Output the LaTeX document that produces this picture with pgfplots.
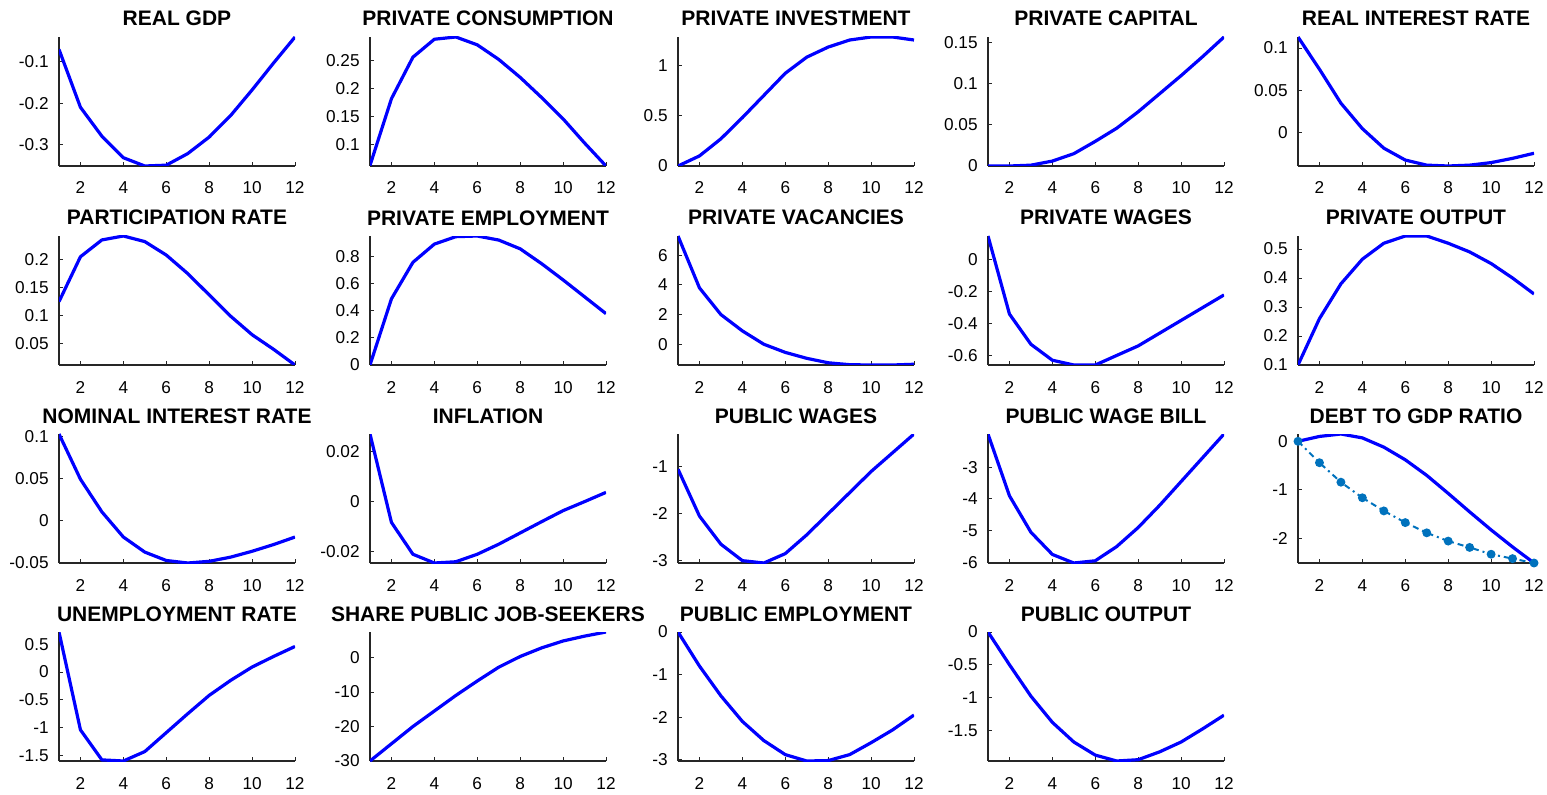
\documentclass[border=0pt]{standalone}
\usepackage{fontspec}
\setmainfont{Liberation Sans}
\usepackage{pgfplots}
\pgfplotsset{compat=1.18}
\definecolor{lb}{rgb}{0,0.447,0.741}
\pgfplotsset{
 panel/.style={
  scale only axis, width=118pt, height=64.5pt,
  xmin=1, xmax=12, enlargelimits=false,
  axis lines*=left,
  axis line style={line width=0.6pt, black!85},
  xtick={2,4,...,12},
  scaled y ticks=false, scaled x ticks=false,
  tick align=inside, major tick length=2pt,
  tick style={line width=0.5pt, black!85},
  ticklabel style={font=\fontsize{8.6}{10}\selectfont},
  /pgf/number format/assume math mode=true,
  /pgf/number format/fixed,
  /pgf/number format/precision=3,
  xticklabel style={anchor=base, yshift=-14pt, inner sep=0pt},
  yticklabel style={anchor=east, inner sep=0pt, xshift=-5pt},
  every axis title shift=0pt,
  title style={font=\fontsize{10.5}{12}\selectfont\bfseries, at={(0.5,1)}, anchor=base, yshift=5.5pt, inner sep=0pt},
 },
 ml/.style={blue, line width=1.6pt, line join=round},
}
\begin{document}
\begin{tikzpicture}
\useasboundingbox (0,0) rectangle (773.5pt,397pt);
% Row 1
\begin{axis}[panel, at={(29.5pt,314pt)}, title={REAL GDP}, ytick={-0.3,-0.2,-0.1}]
\addplot[ml] coordinates {(1,-0.07)(2,-0.21)(3,-0.28)(4,-0.332)(5,-0.352)(6,-0.35)(7,-0.322)(8,-0.282)(9,-0.23)(10,-0.168)(11,-0.103)(12,-0.04)};
\end{axis}
\begin{axis}[panel, at={(185pt,314pt)}, title={PRIVATE CONSUMPTION}, ytick={0.1,0.15,0.2,0.25}]
\addplot[ml] coordinates {(1,0.063)(2,0.182)(3,0.256)(4,0.288)(5,0.292)(6,0.278)(7,0.252)(8,0.22)(9,0.184)(10,0.146)(11,0.103)(12,0.062)};
\end{axis}
\begin{axis}[panel, at={(339pt,314pt)}, title={PRIVATE INVESTMENT}, ytick={0,0.5,1}]
\addplot[ml] coordinates {(1,0)(2,0.1)(3,0.27)(4,0.48)(5,0.7)(6,0.92)(7,1.08)(8,1.18)(9,1.25)(10,1.28)(11,1.28)(12,1.25)};
\end{axis}
\begin{axis}[panel, at={(494pt,314pt)}, title={PRIVATE CAPITAL}, ytick={0,0.05,0.1,0.15}]
\addplot[ml] coordinates {(1,0)(2,0)(3,0.001)(4,0.006)(5,0.015)(6,0.03)(7,0.046)(8,0.066)(9,0.088)(10,0.11)(11,0.133)(12,0.157)};
\end{axis}
\begin{axis}[panel, at={(649pt,314pt)}, title={REAL INTEREST RATE}, ytick={0,0.05,0.1}]
\addplot[ml] coordinates {(1,0.113)(2,0.075)(3,0.035)(4,0.005)(5,-0.018)(6,-0.032)(7,-0.038)(8,-0.039)(9,-0.038)(10,-0.035)(11,-0.03)(12,-0.024)};
\end{axis}
% Row 2
\begin{axis}[panel, at={(29.5pt,214.5pt)}, title={PARTICIPATION RATE}, ytick={0.05,0.1,0.15,0.2}]
\addplot[ml] coordinates {(1,0.125)(2,0.205)(3,0.235)(4,0.242)(5,0.232)(6,0.208)(7,0.175)(8,0.137)(9,0.099)(10,0.066)(11,0.04)(12,0.012)};
\end{axis}
\begin{axis}[panel, at={(185pt,214.5pt)}, title={PRIVATE EMPLOYMENT}, ytick={0,0.2,0.4,0.6,0.8}]
\addplot[ml] coordinates {(1,0)(2,0.49)(3,0.76)(4,0.895)(5,0.95)(6,0.955)(7,0.925)(8,0.86)(9,0.75)(10,0.63)(11,0.505)(12,0.38)};
\end{axis}
\begin{axis}[panel, at={(339pt,214.5pt)}, title={PRIVATE VACANCIES}, ytick={0,2,4,6}]
\addplot[ml] coordinates {(1,7.3)(2,3.8)(3,2.0)(4,0.9)(5,0.0)(6,-0.55)(7,-0.95)(8,-1.25)(9,-1.38)(10,-1.4)(11,-1.4)(12,-1.35)};
\end{axis}
\begin{axis}[panel, at={(494pt,214.5pt)}, title={PRIVATE WAGES}, ytick={-0.6,-0.4,-0.2,0}]
\addplot[ml] coordinates {(1,0.15)(2,-0.34)(3,-0.53)(4,-0.63)(5,-0.66)(6,-0.66)(7,-0.6)(8,-0.54)(9,-0.46)(10,-0.38)(11,-0.3)(12,-0.22)};
\end{axis}
\begin{axis}[panel, at={(649pt,214.5pt)}, title={PRIVATE OUTPUT}, ytick={0.1,0.2,0.3,0.4,0.5}]
\addplot[ml] coordinates {(1,0.1)(2,0.26)(3,0.38)(4,0.465)(5,0.52)(6,0.545)(7,0.545)(8,0.52)(9,0.49)(10,0.45)(11,0.4)(12,0.345)};
\end{axis}
% Row 3
\begin{axis}[panel, at={(29.5pt,115.5pt)}, title={NOMINAL INTEREST RATE}, ytick={-0.05,0,0.05,0.1}]
\addplot[ml] coordinates {(1,0.103)(2,0.049)(3,0.01)(4,-0.02)(5,-0.038)(6,-0.048)(7,-0.051)(8,-0.049)(9,-0.044)(10,-0.037)(11,-0.029)(12,-0.02)};
\end{axis}
\begin{axis}[panel, at={(185pt,115.5pt)}, title={INFLATION}, ytick={-0.02,0,0.02}]
\addplot[ml] coordinates {(1,0.027)(2,-0.0083)(3,-0.021)(4,-0.0245)(5,-0.024)(6,-0.021)(7,-0.017)(8,-0.0125)(9,-0.008)(10,-0.0036)(11,0.0)(12,0.0037)};
\end{axis}
\begin{axis}[panel, at={(339pt,115.5pt)}, title={PUBLIC WAGES}, ytick={-3,-2,-1}]
\addplot[ml] coordinates {(1,-1.05)(2,-2.05)(3,-2.65)(4,-3.0)(5,-3.05)(6,-2.85)(7,-2.45)(8,-2.0)(9,-1.55)(10,-1.1)(11,-0.7)(12,-0.3)};
\end{axis}
\begin{axis}[panel, at={(494pt,115.5pt)}, title={PUBLIC WAGE BILL}, ytick={-6,-5,-4,-3}]
\addplot[ml] coordinates {(1,-1.95)(2,-3.9)(3,-5.05)(4,-5.75)(5,-6.02)(6,-5.95)(7,-5.5)(8,-4.9)(9,-4.2)(10,-3.45)(11,-2.7)(12,-1.95)};
\end{axis}
\begin{axis}[panel, at={(649pt,115.5pt)}, title={DEBT TO GDP RATIO}, ytick={-2,-1,0}]
\addplot[ml] coordinates {(1,0)(2,0.1)(3,0.15)(4,0.07)(5,-0.12)(6,-0.38)(7,-0.7)(8,-1.07)(9,-1.45)(10,-1.82)(11,-2.17)(12,-2.5)};
\addplot[lb, line width=1pt, dash dot, mark=*, mark size=1.7pt, mark options={solid}] coordinates {(1,0)(2,-0.44)(3,-0.84)(4,-1.16)(5,-1.43)(6,-1.67)(7,-1.88)(8,-2.05)(9,-2.18)(10,-2.32)(11,-2.41)(12,-2.5)};
\end{axis}
% Row 4
\begin{axis}[panel, at={(29.5pt,16.5pt)}, title={UNEMPLOYMENT RATE}, ytick={-1.5,-1,-0.5,0,0.5}]
\addplot[ml] coordinates {(1,0.72)(2,-1.04)(3,-1.58)(4,-1.6)(5,-1.43)(6,-1.09)(7,-0.75)(8,-0.42)(9,-0.15)(10,0.09)(11,0.28)(12,0.46)};
\end{axis}
\begin{axis}[panel, at={(185pt,16.5pt)}, title={SHARE PUBLIC JOB-SEEKERS}, ytick={-30,-20,-10,0}]
\addplot[ml] coordinates {(1,-30)(2,-25)(3,-20)(4,-15.5)(5,-11)(6,-6.8)(7,-2.8)(8,0.3)(9,2.8)(10,4.8)(11,6.2)(12,7.4)};
\end{axis}
\begin{axis}[panel, at={(339pt,16.5pt)}, title={PUBLIC EMPLOYMENT}, ytick={-3,-2,-1,0}]
\addplot[ml] coordinates {(1,0)(2,-0.8)(3,-1.5)(4,-2.1)(5,-2.55)(6,-2.88)(7,-3.03)(8,-3.02)(9,-2.88)(10,-2.6)(11,-2.3)(12,-1.95)};
\end{axis}
\begin{axis}[panel, at={(494pt,16.5pt)}, title={PUBLIC OUTPUT}, ytick={-1.5,-1,-0.5,0}]
\addplot[ml] coordinates {(1,0)(2,-0.5)(3,-0.98)(4,-1.38)(5,-1.68)(6,-1.88)(7,-1.97)(8,-1.95)(9,-1.83)(10,-1.68)(11,-1.48)(12,-1.27)};
\end{axis}
\end{tikzpicture}
\end{document}
